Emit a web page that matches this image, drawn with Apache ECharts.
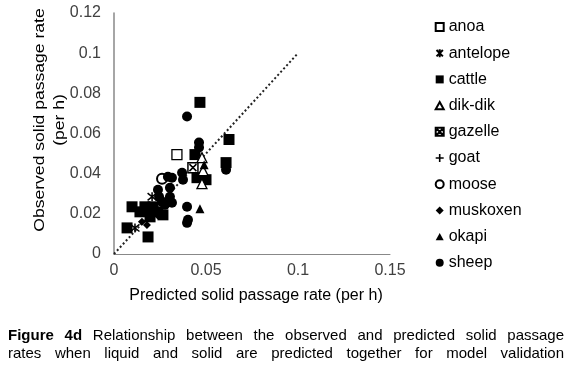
<!DOCTYPE html>
<html>
<head>
<meta charset="utf-8">
<script src="https://cdn.jsdelivr.net/npm/echarts@6/dist/echarts.min.js"></script>
<style>
  html, body { margin: 0; padding: 0; background: #fff; }
  #chart { width: 580px; height: 377px; }
</style>
</head>
<body>
<div id="chart"></div>
<script>
// predicted (x) vs observed (y) solid passage rate, per h
const anoa = [[0.0342, 0.0495]];
const antelope = [[0.0207, 0.0285], [0.0114, 0.013]];
const cattle = [
  [0.0467, 0.0755], [0.0625, 0.057], [0.0609, 0.0455], [0.044, 0.0495],
  [0.0451, 0.038], [0.050, 0.037], [0.0098, 0.0235], [0.0141, 0.021],
  [0.0168, 0.0235], [0.0212, 0.0235], [0.0196, 0.0185], [0.0266, 0.0195],
  [0.0071, 0.013], [0.0185, 0.0085], [0.0239, 0.021]
];
const dikdik = [[0.0478, 0.048], [0.0478, 0.035], [0.0484, 0.0415]];
const gazelle = [[0.0429, 0.043]];
const goat = [[0.025, 0.027]];
const moose = [[0.0261, 0.0375]];
const muskoxen = [[0.0179, 0.0145], [0.0152, 0.016]];
const okapi = [[0.0467, 0.0225], [0.049, 0.0445]];
const sheep = [
  [0.0397, 0.0685], [0.0462, 0.0555], [0.0462, 0.053], [0.0609, 0.042],
  [0.0315, 0.038], [0.0293, 0.0385], [0.037, 0.0405], [0.0375, 0.037],
  [0.0239, 0.032], [0.0245, 0.0285], [0.0304, 0.033], [0.0304, 0.0285],
  [0.0223, 0.021], [0.025, 0.0195], [0.0277, 0.0245], [0.0261, 0.026],
  [0.0315, 0.0255], [0.0397, 0.0235], [0.0402, 0.017], [0.0397, 0.0155]
];
const oneToOne = [[0, 0], [0.1, 0.1]];

const captionLine1 = [['Figure', true], ['4d', true], 'Relationship', 'between', 'the', 'observed', 'and', 'predicted', 'solid', 'passage'];
const captionLine2 = ['rates', 'when', 'liquid', 'and', 'solid', 'are', 'predicted', 'together', 'for', 'model', 'validation'];

const FONT = '"Liberation Sans", Arial, sans-serif';

const sym = {
  square: 'path://M0,0H10V10H0Z',
  triangle: 'path://M5,0L10,9H0Z',
  diamond: 'path://M5,0L10,5L5,10L0,5Z',
  plus: 'path://M4,0H6V4H10V6H6V10H4V6H0V4H4Z',
  star: 'path://M1,1L9,9M9,1L1,9M5,0V10',
  xbox: 'path://M0,0H10V10H0ZM1.5,1.5L8.5,8.5M8.5,1.5L1.5,8.5'
};

// justify one caption line across the given width
const ctx = document.createElement('canvas').getContext('2d');
function justify(words, x0, x1, y) {
  const items = words.map(w => {
    const t = Array.isArray(w) ? w[0] : w;
    const b = Array.isArray(w) ? w[1] : false;
    ctx.font = (b ? 'bold ' : '') + '15px ' + FONT;
    return { t, b, w: ctx.measureText(t).width };
  });
  const total = items.reduce((s, i) => s + i.w, 0);
  const gap = (x1 - x0 - total) / (items.length - 1);
  let x = x0;
  return items.map(i => {
    const el = {
      type: 'text', left: x, top: y,
      style: { text: i.t, font: (i.b ? 'bold ' : '') + '15px ' + FONT, fill: '#000' }
    };
    x += i.w + gap;
    return el;
  });
}

function scatter(name, data, symbol, size, style) {
  return {
    name, type: 'scatter', data, symbol, symbolSize: size,
    itemStyle: Object.assign({ color: '#000', opacity: 1 }, style || {})
  };
}

const chart = echarts.init(document.getElementById('chart'));
chart.setOption({
  animation: false,
  textStyle: { fontFamily: FONT },
  grid: { left: 114, right: 190, top: 13, bottom: 123 },
  xAxis: {
    type: 'value', min: 0, max: 0.15, interval: 0.05,
    name: 'Predicted solid passage rate (per h)',
    nameLocation: 'middle', nameGap: 34,
    nameTextStyle: { fontSize: 16, color: '#000', fontFamily: FONT, padding: [0, 0, 0, 8] },
    axisLine: { show: true, lineStyle: { color: '#888', width: 1 } },
    axisTick: { show: false },
    splitLine: { show: false },
    axisLabel: { fontSize: 16, color: '#404040', margin: 9, fontFamily: FONT }
  },
  yAxis: {
    type: 'value', min: 0, max: 0.12, interval: 0.02,
    axisLine: { show: true, lineStyle: { color: '#888', width: 1.5 } },
    axisTick: { show: false },
    splitLine: { show: false },
    axisLabel: { fontSize: 16, color: '#404040', margin: 13, fontFamily: FONT }
  },
  legend: {
    orient: 'vertical', left: 429, top: 14, itemGap: 10.2,
    itemWidth: 8, itemHeight: 8,
    textStyle: { fontSize: 16, color: '#000', fontFamily: FONT, lineHeight: 16 },
    data: ['anoa', 'antelope', 'cattle', 'dik-dik', 'gazelle', 'goat', 'moose', 'muskoxen', 'okapi', 'sheep']
  },
  graphic: [
    {
      type: 'text', x: 50, y: 120, rotation: Math.PI / 2, scaleX: 1.17,
      style: {
        text: 'Observed solid passage rate\n(per h)', font: '15px ' + FONT,
        fill: '#000', align: 'center', verticalAlign: 'middle', lineHeight: 20
      }
    }
  ].concat(justify(captionLine1, 8, 564, 328), justify(captionLine2, 8, 564, 346)),
  series: [
    {
      type: 'line', data: oneToOne, symbol: 'none', silent: true,
      lineStyle: { color: '#222', width: 2, type: [2, 2.4] }, z: 1
    },
    scatter('anoa', anoa, sym.square, 10, { color: '#fff', borderColor: '#000', borderWidth: 1.3 }),
    scatter('antelope', antelope, sym.star, 9, { color: 'none', borderColor: '#000', borderWidth: 1.5 }),
    scatter('cattle', cattle, sym.square, 11),
    scatter('dik-dik', dikdik, sym.triangle, 10, { color: '#fff', borderColor: '#000', borderWidth: 1.3 }),
    scatter('gazelle', gazelle, sym.xbox, 10, { color: '#fff', borderColor: '#000', borderWidth: 1.5 }),
    scatter('goat', goat, sym.plus, 9),
    scatter('moose', moose, 'circle', 10, { color: '#fff', borderColor: '#000', borderWidth: 2 }),
    scatter('muskoxen', muskoxen, sym.diamond, 8),
    scatter('okapi', okapi, sym.triangle, 9),
    scatter('sheep', sheep, 'circle', 10)
  ]
});
</script>
</body>
</html>
